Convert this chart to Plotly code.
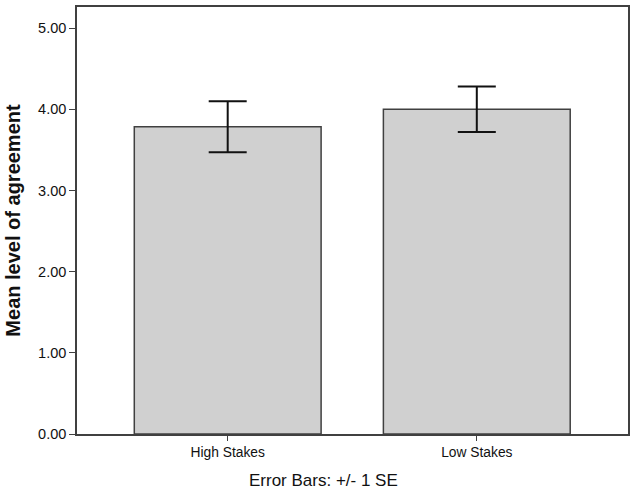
import plotly.graph_objects as go

categories = ["High Stakes", "Low Stakes"]
means = [3.785, 4.00]
err_plus = [0.315, 0.28]
err_minus = [0.315, 0.28]
y_ticks = [0, 1, 2, 3, 4, 5]
y_tick_labels = ["0.00", "1.00", "2.00", "3.00", "4.00", "5.00"]

fig = go.Figure()
fig.add_trace(go.Bar(
    x=categories, y=means, width=0.75,
    marker=dict(color="#d0d0d0", line=dict(color="#404040", width=1.5)),
    error_y=dict(type="data", array=err_plus, arrayminus=err_minus,
                 color="#111111", thickness=2, width=19, visible=True),
))

axis_font = dict(family="Arial, Liberation Sans, sans-serif", color="#111111")
fig.update_layout(
    width=635, height=493,
    margin=dict(l=77, r=5, t=6, b=59),
    paper_bgcolor="white", plot_bgcolor="white",
    showlegend=False,
    font=axis_font,
    xaxis=dict(range=[-0.605, 1.607], showline=True, linecolor="#404040", linewidth=1.5,
               mirror=True, ticks="outside", ticklen=5, tickcolor="#404040",
               tickfont=dict(size=13.8, **axis_font), showgrid=False, zeroline=False),
    yaxis=dict(range=[0, 5.26], tickvals=y_ticks, ticktext=y_tick_labels,
               showline=True, linecolor="#404040", linewidth=1.5, mirror=True,
               ticks="outside", ticklen=6, tickcolor="#404040",
               tickfont=dict(size=14.5, **axis_font), showgrid=False, zeroline=False,
               title=dict(text="<b>Mean level of agreement</b>",
                          font=dict(size=20, **axis_font), standoff=12)),
    annotations=[dict(text="Error Bars: +/- 1 SE", xref="paper", yref="paper",
                      x=(324 - 77) / (635 - 77 - 5), y=-(481 - 434) / (493 - 6 - 59),
                      xanchor="center", yanchor="middle", showarrow=False,
                      font=dict(size=17, **axis_font))],
)

fig.write_html("out.html")
